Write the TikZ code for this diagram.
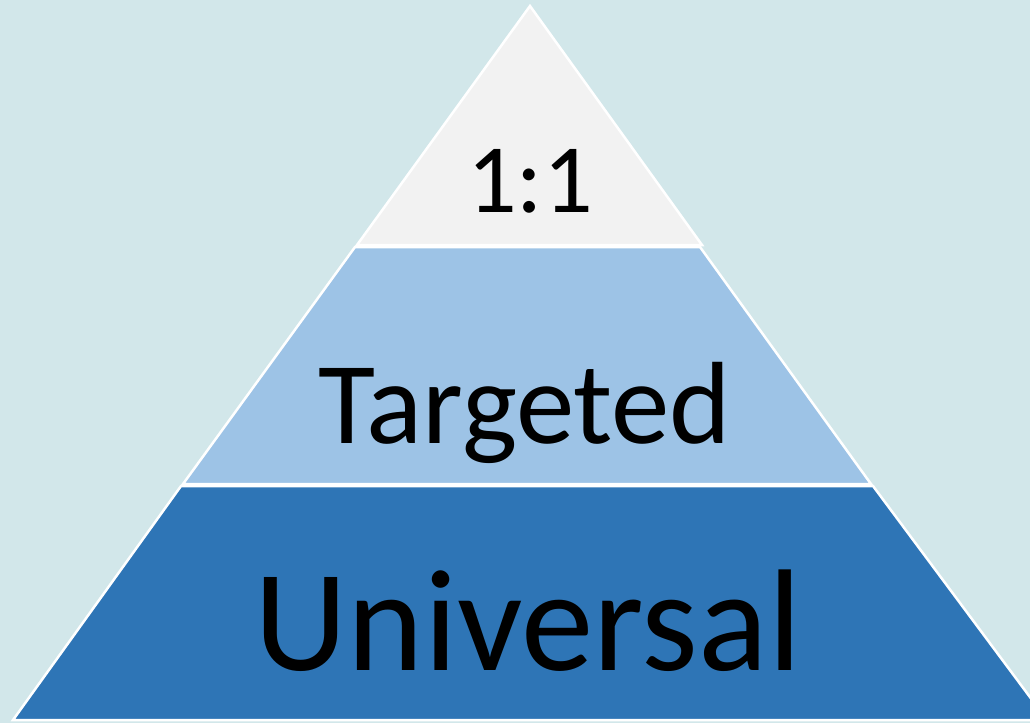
\documentclass[tikz,border=0pt]{standalone}
\usepackage{fontspec}
\setmainfont{Carlito}
\definecolor{bg}{HTML}{D2E7EA}
\definecolor{topc}{HTML}{F2F2F2}
\definecolor{midc}{HTML}{9DC3E6}
\definecolor{botc}{HTML}{2E75B6}
\begin{document}
\begin{tikzpicture}[x=1pt,y=-1pt,
  band/.style={draw=white,line width=2.5pt,line join=miter},
  lbl/.style={anchor=base,inner sep=0pt,text=black}]
\useasboundingbox (0,0) rectangle (1030,723);
\fill[bg] (0,0) rectangle (1030,723);
\begin{scope}
\clip (0,0) rectangle (1030,723);
\draw[band,fill=botc] (181,486) -- (873,486) -- (1047,720) -- (13,720) -- cycle;
\draw[band,fill=midc] (355,247) -- (700,247) -- (871,484) -- (183,484) -- cycle;
\draw[band,fill=topc] (530,6) -- (702,245) -- (357,245) -- cycle;
\end{scope}
\node[lbl,font=\fontsize{98}{100}\selectfont] (one) at (530,212) {1:1};
\node[lbl,font=\fontsize{117}{120}\selectfont] (targeted) at (525,443) {Targeted};
\node[lbl,font=\fontsize{145}{150}\selectfont] (universal) at (528,670) {Universal};
\end{tikzpicture}
\end{document}
